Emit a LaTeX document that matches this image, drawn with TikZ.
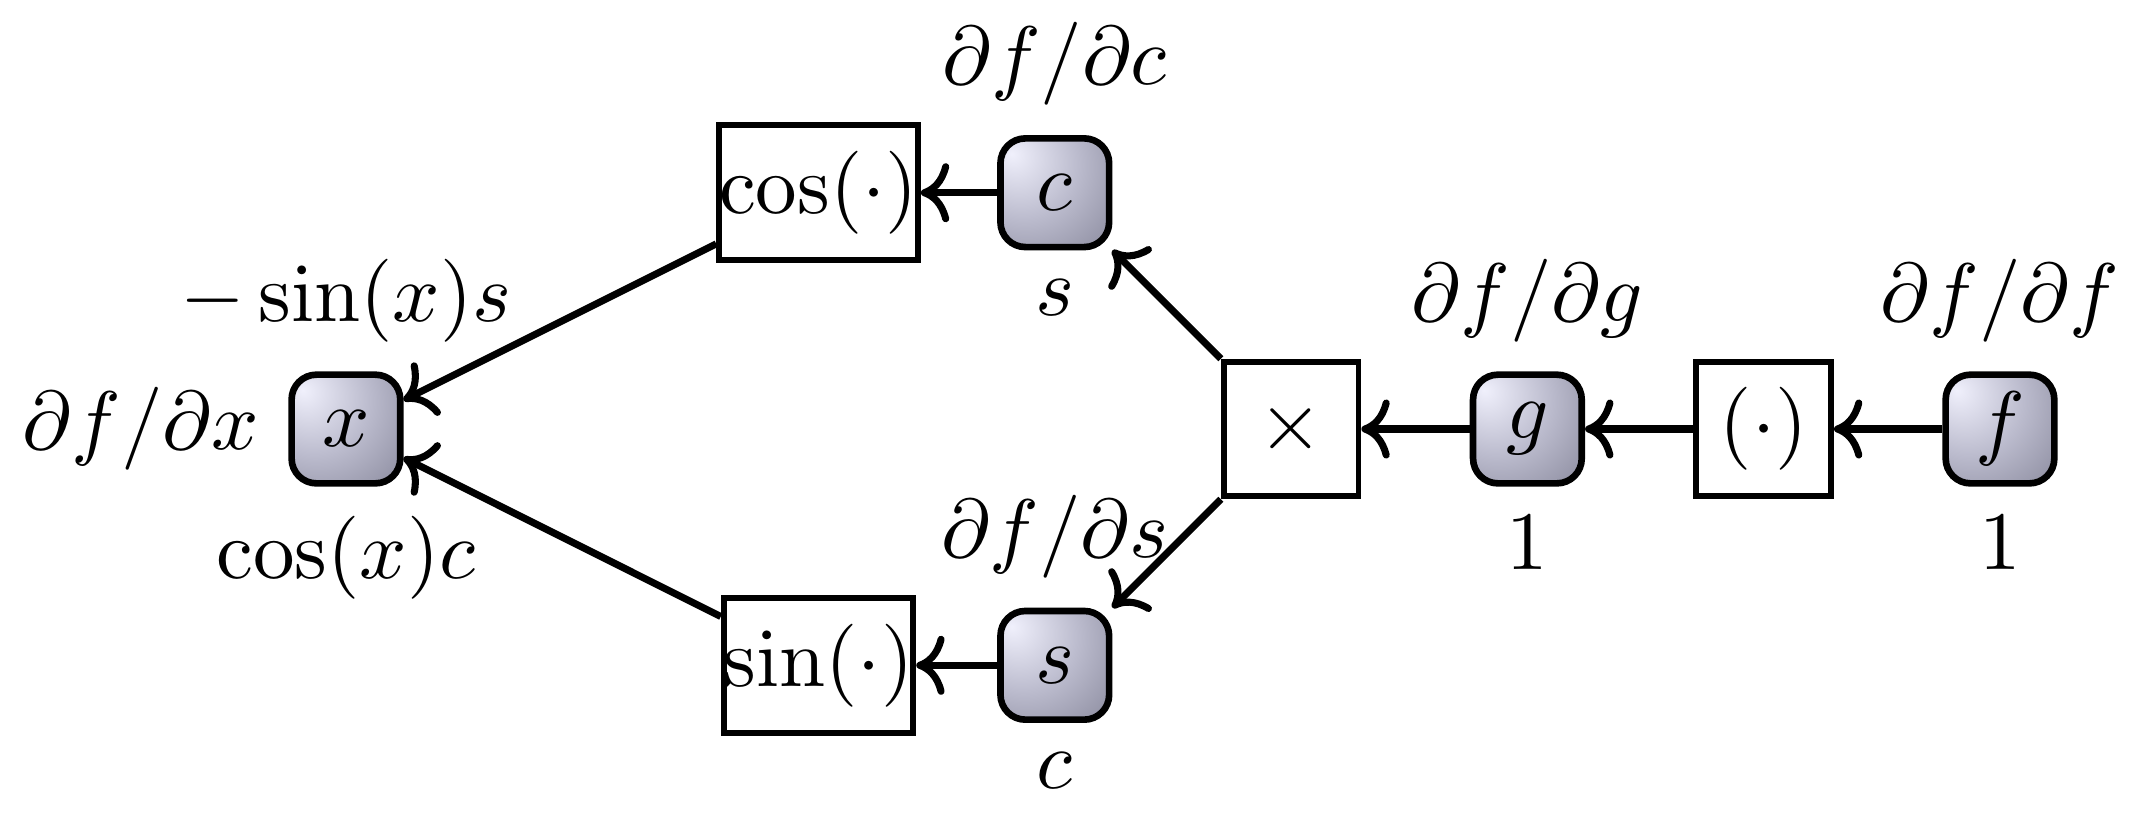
\documentclass[tikz,border=0pt]{standalone}
\usepackage{amsmath}
\usepackage{tikz}
\usetikzlibrary{arrows.meta, positioning}
\definecolor{ballhi}{RGB}{240,240,252}
\definecolor{balllt}{RGB}{188,188,206}
\definecolor{ballmd}{RGB}{148,148,167}
\definecolor{balldk}{RGB}{104,104,121}
\definecolor{ballrim}{RGB}{68,68,84}
\pgfdeclareradialshading{varball}{\pgfpoint{-20bp}{18bp}}{%
  color(0bp)=(ballhi); color(25bp)=(balllt); color(45bp)=(ballmd);
  color(70bp)=(balldk); color(95bp)=(ballrim)}

\begin{document}
\begin{tikzpicture}[node distance=1cm and 1cm, on grid,
      var/.style={draw, line width=0.8pt, rounded corners=3pt, shade, shading=varball,
                  minimum size=4.6mm, inner sep=1pt},
      op/.style={draw, line width=0.7pt, minimum size=5.7mm, inner sep=0pt},
      ar/.style={-{To[length=1.2mm, width=2.5mm]}, line width=0.85pt}]
    \useasboundingbox (-1.464,-1.625) rectangle (7.622,1.8155);
    \node[var, label=above:{$-\sin(x)s$}, label=left:{$\partial f/\partial x$},
          label=below:{$\cos(x)c$}] (x) at (0,0) {$x$};
    \node[op, above right=1cm and 2cm of x] (cos) {$\cos(\cdot)$};
    \node[var, right=of cos, label=above:{$\partial f/\partial c$}, label=below:{$s$}] (c) {$c$};
    \node[op, below right=1cm and 2cm of x] (sin) {$\sin(\cdot)$};
    \node[var, right=of sin, label=above:{$\partial f/\partial s$}, label=below:{$c$}] (s) {$s$};
    \node[op, right=4cm of x] (mul) {$\times$};
    \node[var, right=of mul, label=above:{$\partial f/\partial g$}, label=below:{$1$}] (g) {$g$};
    \node[op, right=of g] (id) {$(\cdot)$};
    \node[var, right=of id, label=above:{$\partial f/\partial f$}, label=below:{$1$}] (f) {$f$};
    \draw[ar] (c) -- (cos); \draw[ar] (s) -- (sin);
    \draw[ar] (cos) -- (x); \draw[ar] (sin) -- (x);
    \draw[ar] (mul) -- (c); \draw[ar] (mul) -- (s);
    \draw[ar] (g) -- (mul); \draw[ar] (id) -- (g); \draw[ar] (f) -- (id);
  \end{tikzpicture}
\end{document}
